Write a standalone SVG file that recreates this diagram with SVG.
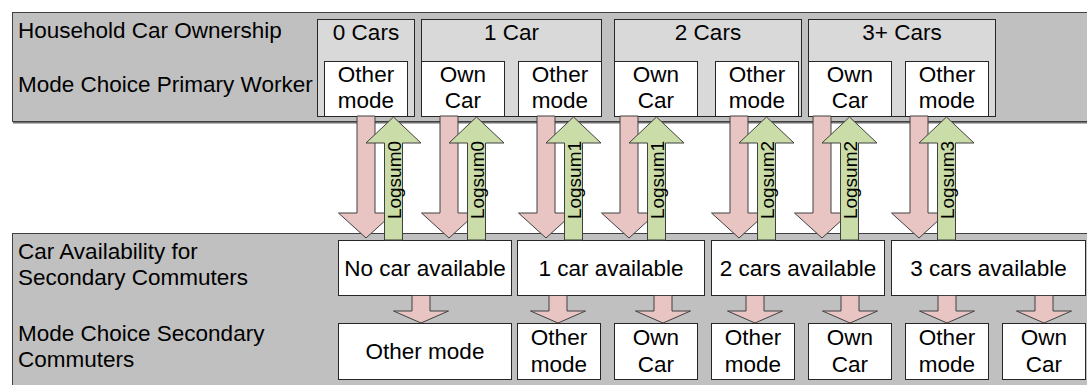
<svg xmlns="http://www.w3.org/2000/svg" width="1087" height="385" viewBox="0 0 1087 385">
  <defs>
    <style>
      text { font-family: "Liberation Sans", Arial, sans-serif; font-size: 22.5px; fill: #000; }
      .lbl { text-anchor: start; }
      .mid { text-anchor: middle; }
      .logsum { font-size: 19px; text-anchor: middle; }
      .panel { fill: #c0c0c0; stroke: #404040; stroke-width: 1; }
      .shadow { stroke: #707070; stroke-width: 1.5; }
      .group { fill: #d9d9d9; stroke: #262626; stroke-width: 1; }
      .box { fill: #ffffff; stroke: #262626; stroke-width: 1; }
      .down { fill: #e8c4c3; stroke: #404040; stroke-width: 1; stroke-linejoin: miter; }
      .up { fill: #cadca8; stroke: #404040; stroke-width: 1; stroke-linejoin: miter; }
    </style>
  </defs>

  <rect width="1087" height="385" fill="#ffffff"/>

  <!-- upper band: primary worker -->
  <g id="panel-primary">
    <rect class="panel" x="12.5" y="12.5" width="1100" height="109"/>
    <line class="shadow" x1="13" y1="122.7" x2="1087" y2="122.7"/>
    <text class="lbl" x="18" y="38">Household Car Ownership</text>
    <text class="lbl" x="18" y="92">Mode Choice Primary Worker</text>
  </g>

  <g id="own-0">
    <rect class="group" x="317.5" y="19.5" width="97" height="97"/>
    <text class="mid" x="366" y="40">0 Cars</text>
  </g>
  <g id="own-1">
    <rect class="group" x="421.5" y="19.5" width="180" height="97"/>
    <text class="mid" x="511.5" y="40">1 Car</text>
  </g>
  <g id="own-2">
    <rect class="group" x="614.5" y="19.5" width="187" height="97"/>
    <text class="mid" x="708" y="40">2 Cars</text>
  </g>
  <g id="own-3">
    <rect class="group" x="808.5" y="19.5" width="187" height="97"/>
    <text class="mid" x="902" y="40">3+ Cars</text>
  </g>

  <g id="pw-0-other">
    <rect class="box" x="324.5" y="61.5" width="83" height="55"/>
    <text class="mid" x="366" y="82">Other</text>
    <text class="mid" x="366" y="108">mode</text>
  </g>
  <g id="pw-1-own">
    <rect class="box" x="421.5" y="61.5" width="83" height="55"/>
    <text class="mid" x="463" y="82">Own</text>
    <text class="mid" x="463" y="108">Car</text>
  </g>
  <g id="pw-1-other">
    <rect class="box" x="518.5" y="61.5" width="83" height="55"/>
    <text class="mid" x="560" y="82">Other</text>
    <text class="mid" x="560" y="108">mode</text>
  </g>
  <g id="pw-2-own">
    <rect class="box" x="614.5" y="61.5" width="83" height="55"/>
    <text class="mid" x="656" y="82">Own</text>
    <text class="mid" x="656" y="108">Car</text>
  </g>
  <g id="pw-2-other">
    <rect class="box" x="715.5" y="61.5" width="83" height="55"/>
    <text class="mid" x="757" y="82">Other</text>
    <text class="mid" x="757" y="108">mode</text>
  </g>
  <g id="pw-3-own">
    <rect class="box" x="808.5" y="61.5" width="83" height="55"/>
    <text class="mid" x="850" y="82">Own</text>
    <text class="mid" x="850" y="108">Car</text>
  </g>
  <g id="pw-3-other">
    <rect class="box" x="905.5" y="61.5" width="83" height="55"/>
    <text class="mid" x="947" y="82">Other</text>
    <text class="mid" x="947" y="108">mode</text>
  </g>

  <!-- lower band: secondary commuters -->
  <g id="panel-secondary">
    <rect class="panel" x="12.5" y="233.5" width="1100" height="200"/>
    <text class="lbl" x="18" y="259">Car Availability for</text>
    <text class="lbl" x="18" y="285">Secondary Commuters</text>
    <text class="lbl" x="18" y="341">Mode Choice Secondary</text>
    <text class="lbl" x="18" y="367">Commuters</text>
  </g>

  <g id="avail-0">
    <rect class="box" x="338.5" y="240.5" width="173" height="55"/>
    <text class="mid" x="425" y="276">No car available</text>
  </g>
  <g id="avail-1">
    <rect class="box" x="517.5" y="240.5" width="187" height="55"/>
    <text class="mid" x="611" y="276">1 car available</text>
  </g>
  <g id="avail-2">
    <rect class="box" x="711.5" y="240.5" width="173" height="55"/>
    <text class="mid" x="798" y="276">2 cars available</text>
  </g>
  <g id="avail-3">
    <rect class="box" x="891.5" y="240.5" width="194" height="55"/>
    <text class="mid" x="988.5" y="276">3 cars available</text>
  </g>

  <g id="sc-0-other">
    <rect class="box" x="338.5" y="323.5" width="173" height="56"/>
    <text class="mid" x="425" y="359">Other mode</text>
  </g>
  <g id="sc-1-other">
    <rect class="box" x="517.5" y="323.5" width="83" height="56"/>
    <text class="mid" x="559" y="345">Other</text>
    <text class="mid" x="559" y="372">mode</text>
  </g>
  <g id="sc-1-own">
    <rect class="box" x="614.5" y="323.5" width="83" height="56"/>
    <text class="mid" x="656" y="345">Own</text>
    <text class="mid" x="656" y="372">Car</text>
  </g>
  <g id="sc-2-other">
    <rect class="box" x="711.5" y="323.5" width="83" height="56"/>
    <text class="mid" x="753" y="345">Other</text>
    <text class="mid" x="753" y="372">mode</text>
  </g>
  <g id="sc-2-own">
    <rect class="box" x="808.5" y="323.5" width="83" height="56"/>
    <text class="mid" x="850" y="345">Own</text>
    <text class="mid" x="850" y="372">Car</text>
  </g>
  <g id="sc-3-other">
    <rect class="box" x="905.5" y="323.5" width="83" height="56"/>
    <text class="mid" x="947" y="345">Other</text>
    <text class="mid" x="947" y="372">mode</text>
  </g>
  <g id="sc-3-own">
    <rect class="box" x="1002.5" y="323.5" width="83" height="56"/>
    <text class="mid" x="1044" y="345">Own</text>
    <text class="mid" x="1044" y="372">Car</text>
  </g>

  <!-- connectors: block arrows between the bands and within the lower band -->
  <g id="connectors">
    <!-- downward choice arrows, primary mode to car availability -->
    <polygon class="down" points="357,116 375,116 375,213 393.5,213 366,238 338.5,213 357,213"/>
    <polygon class="down" points="440,116 458,116 458,213 476.5,213 449,238 421.5,213 440,213"/>
    <polygon class="down" points="537,116 555,116 555,213 573.5,213 546,238 518.5,213 537,213"/>
    <polygon class="down" points="620,116 638,116 638,213 656.5,213 629,238 601.5,213 620,213"/>
    <polygon class="down" points="730,116 748,116 748,213 766.5,213 739,238 711.5,213 730,213"/>
    <polygon class="down" points="813,116 831,116 831,213 849.5,213 822,238 794.5,213 813,213"/>
    <polygon class="down" points="910,116 928,116 928,213 946.5,213 919,238 891.5,213 910,213"/>

    <!-- upward logsum arrows -->
    <g>
      <polygon class="up" points="384.5,240 384.5,143 366,143 393.5,117 421,143 402.5,143 402.5,240"/>
      <text class="logsum" transform="translate(393.5,180) rotate(-90)" x="0" y="7">Logsum0</text>
    </g>
    <g>
      <polygon class="up" points="467.5,240 467.5,143 449,143 476.5,117 504,143 485.5,143 485.5,240"/>
      <text class="logsum" transform="translate(476.5,180) rotate(-90)" x="0" y="7">Logsum0</text>
    </g>
    <g>
      <polygon class="up" points="564.5,240 564.5,143 546,143 573.5,117 601,143 582.5,143 582.5,240"/>
      <text class="logsum" transform="translate(573.5,180) rotate(-90)" x="0" y="7">Logsum1</text>
    </g>
    <g>
      <polygon class="up" points="647.5,240 647.5,143 629,143 656.5,117 684,143 665.5,143 665.5,240"/>
      <text class="logsum" transform="translate(656.5,180) rotate(-90)" x="0" y="7">Logsum1</text>
    </g>
    <g>
      <polygon class="up" points="757.5,240 757.5,143 739,143 766.5,117 794,143 775.5,143 775.5,240"/>
      <text class="logsum" transform="translate(766.5,180) rotate(-90)" x="0" y="7">Logsum2</text>
    </g>
    <g>
      <polygon class="up" points="840.5,240 840.5,143 822,143 849.5,117 877,143 858.5,143 858.5,240"/>
      <text class="logsum" transform="translate(849.5,180) rotate(-90)" x="0" y="7">Logsum2</text>
    </g>
    <g>
      <polygon class="up" points="937.5,240 937.5,143 919,143 946.5,117 974,143 955.5,143 955.5,240"/>
      <text class="logsum" transform="translate(946.5,180) rotate(-90)" x="0" y="7">Logsum3</text>
    </g>

    <!-- short arrows, car availability to secondary mode -->
    <polygon class="down" points="412,295.5 430,295.5 430,311 448.5,311 421,323 393.5,311 412,311"/>
    <polygon class="down" points="549,295.5 567,295.5 567,311 585.5,311 558,323 530.5,311 549,311"/>
    <polygon class="down" points="654,295.5 672,295.5 672,311 690.5,311 663,323 635.5,311 654,311"/>
    <polygon class="down" points="746,295.5 764,295.5 764,311 782.5,311 755,323 727.5,311 746,311"/>
    <polygon class="down" points="841,295.5 859,295.5 859,311 877.5,311 850,323 822.5,311 841,311"/>
    <polygon class="down" points="938,295.5 956,295.5 956,311 974.5,311 947,323 919.5,311 938,311"/>
    <polygon class="down" points="1035,295.5 1053,295.5 1053,311 1071.5,311 1044,323 1016.5,311 1035,311"/>
  </g>
</svg>
